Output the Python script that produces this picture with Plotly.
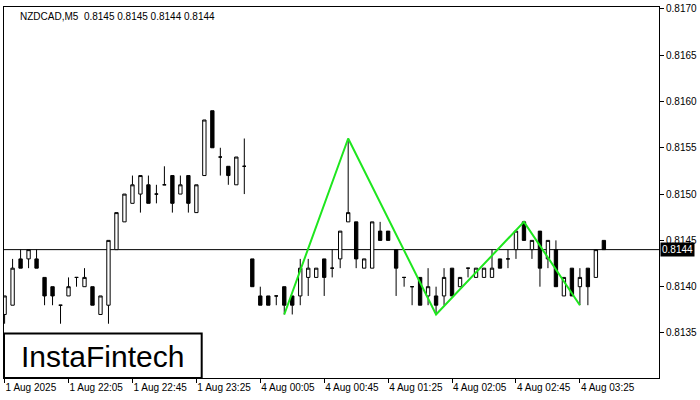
import plotly.graph_objects as go

symbol_title = "NZDCAD,M5  0.8145 0.8145 0.8144 0.8144"

opens = [0.8137, 0.8138, 0.8143, 0.8143, 0.8143, 0.8141, 0.8140, 0.8138, 0.8139, 0.8141,
         0.8140, 0.8140, 0.8137, 0.8138, 0.8144, 0.8147, 0.8149, 0.8150, 0.8151, 0.8150,
         0.8151, 0.8152, 0.8150, 0.8152, 0.8148, 0.8152, 0.8159, 0.8154, 0.8153, 0.8151,
         0.8153, 0.8143, 0.8139, 0.8139, 0.8139, 0.8140, 0.8139, 0.8139, 0.8141, 0.8141,
         0.8143, 0.8142, 0.8143, 0.8147, 0.8147, 0.8142, 0.8142, 0.8146, 0.8146, 0.8144,
         0.8141, 0.8140, 0.8141, 0.8139, 0.8139, 0.8139, 0.8142, 0.8140, 0.8142, 0.8141,
         0.8141, 0.8141, 0.8143, 0.8143, 0.8144, 0.8147, 0.8144, 0.8146, 0.8143, 0.8144,
         0.8139, 0.8142, 0.8140, 0.8142, 0.8141, 0.8145]
highs = [0.8139, 0.8143, 0.8144, 0.8144, 0.8144, 0.8141, 0.8140, 0.8138, 0.8141, 0.8141,
         0.8142, 0.8140, 0.8139, 0.8145, 0.8148, 0.8150, 0.8152, 0.8152, 0.8152, 0.8151,
         0.8153, 0.8152, 0.8152, 0.8152, 0.8151, 0.8158, 0.8159, 0.8155, 0.8153, 0.8154,
         0.8156, 0.8143, 0.8140, 0.8139, 0.8139, 0.8140, 0.8139, 0.8143, 0.8143, 0.8142,
         0.8143, 0.8144, 0.8146, 0.8156, 0.8147, 0.8143, 0.8147, 0.8147, 0.8146, 0.8144,
         0.8141, 0.8140, 0.8141, 0.8142, 0.8140, 0.8142, 0.8142, 0.8141, 0.8142, 0.8142,
         0.8142, 0.8144, 0.8143, 0.8144, 0.8146, 0.8147, 0.8145, 0.8146, 0.8145, 0.8145,
         0.8141, 0.8142, 0.8142, 0.8142, 0.8144, 0.8145]
lows = [0.8136, 0.8138, 0.8142, 0.8142, 0.8142, 0.8138, 0.8138, 0.8136, 0.8139, 0.8140,
        0.8140, 0.8138, 0.8137, 0.8136, 0.8144, 0.8147, 0.8149, 0.8148, 0.8149, 0.8149,
        0.8151, 0.8148, 0.8150, 0.8148, 0.8148, 0.8152, 0.8155, 0.8152, 0.8151, 0.8151,
        0.8150, 0.8140, 0.8138, 0.8138, 0.8138, 0.8137, 0.8137, 0.8138, 0.8139, 0.8141,
        0.8139, 0.8141, 0.8142, 0.8147, 0.8142, 0.8142, 0.8142, 0.8145, 0.8145, 0.8139,
        0.8140, 0.8138, 0.8138, 0.8138, 0.8137, 0.8138, 0.8139, 0.8140, 0.8141, 0.8141,
        0.8141, 0.8141, 0.8142, 0.8142, 0.8143, 0.8145, 0.8143, 0.8140, 0.8142, 0.8140,
        0.8139, 0.8139, 0.8138, 0.8138, 0.8141, 0.8144]
closes = [0.8139, 0.8142, 0.8142, 0.8144, 0.8142, 0.8139, 0.8139, 0.8138, 0.8140, 0.8141,
          0.8141, 0.8138, 0.8139, 0.8145, 0.8148, 0.8150, 0.8151, 0.8152, 0.8149, 0.8150,
          0.8151, 0.8149, 0.8151, 0.8149, 0.8151, 0.8158, 0.8155, 0.8154, 0.8152, 0.8154,
          0.8153, 0.8140, 0.8138, 0.8138, 0.8139, 0.8138, 0.8138, 0.8142, 0.8142, 0.8142,
          0.8141, 0.8142, 0.8146, 0.8148, 0.8143, 0.8143, 0.8147, 0.8145, 0.8145, 0.8142,
          0.8141, 0.8140, 0.8138, 0.8140, 0.8138, 0.8141, 0.8139, 0.8141, 0.8142, 0.8142,
          0.8142, 0.8142, 0.8142, 0.8143, 0.8146, 0.8145, 0.8145, 0.8142, 0.8145, 0.8140,
          0.8141, 0.8139, 0.8141, 0.8140, 0.8144, 0.8144]

bar_index = list(range(len(opens)))

x_tick_index = [0, 8, 16, 24, 32, 40, 48, 56, 64, 72]
x_tick_labels = ["1 Aug 2025", "1 Aug 22:05", "1 Aug 22:45", "1 Aug 23:25", "4 Aug 00:05",
                 "4 Aug 00:45", "4 Aug 01:25", "4 Aug 02:05", "4 Aug 02:45", "4 Aug 03:25"]
y_tick_values = [0.8135, 0.8140, 0.8145, 0.8150, 0.8155, 0.8160, 0.8165, 0.8170]

pattern_index = [35, 43, 54, 65, 72]
pattern_price = [0.8137, 0.8156, 0.8137, 0.8147, 0.8138]

last_price = 0.8144
logo_text = "InstaFintech"

fnt = "Liberation Sans, Arial, sans-serif"

fig = go.Figure()
fig.add_trace(go.Candlestick(
    x=bar_index, open=opens, high=highs, low=lows, close=closes,
    increasing=dict(line=dict(color="black", width=1), fillcolor="white"),
    decreasing=dict(line=dict(color="black", width=1), fillcolor="black"),
    whiskerwidth=0, showlegend=False, hoverinfo="skip",
))
fig.add_trace(go.Scatter(
    x=pattern_index, y=pattern_price, mode="lines",
    line=dict(color="#1ee61e", width=2), showlegend=False, hoverinfo="skip",
))

fig.add_shape(type="line", xref="paper", x0=0, x1=1, yref="y", y0=last_price, y1=last_price,
              line=dict(color="black", width=1), layer="below")

fig.add_annotation(xref="paper", x=1, xanchor="left", xshift=1, yref="y", y=last_price,
                   yanchor="middle", text=f"{last_price:.4f}", showarrow=False, bgcolor="black",
                   font=dict(color="white", size=10, family=fnt), borderpad=1)

fig.add_annotation(xref="paper", yref="paper", x=0, y=1, xanchor="left", yanchor="top",
                   xshift=14, yshift=-2, text=symbol_title, showarrow=False,
                   font=dict(color="black", size=10, family=fnt))

# logo box
fig.add_shape(type="rect", xref="paper", yref="paper", x0=0, x1=198 / 656, y0=0, y1=45 / 375,
              line=dict(color="black", width=2), fillcolor="white", layer="above")
fig.add_annotation(xref="paper", yref="paper", x=99 / 656, y=22 / 375, xanchor="center",
                   yanchor="middle", text=logo_text,
                   showarrow=False, font=dict(color="black", size=30, family=fnt))

fig.update_layout(
    width=700, height=400,
    margin=dict(l=3, r=41, t=3, b=22),
    paper_bgcolor="white", plot_bgcolor="white",
    boxgap=0.4,
    xaxis=dict(range=[-0.075, 81.9], tickvals=x_tick_index, ticktext=x_tick_labels,
               ticks="outside", ticklen=4, tickcolor="black", showgrid=False, zeroline=False,
               showline=True, mirror=True, linecolor="black", linewidth=1,
               ticklabelposition="outside right", ticklabeloverflow="allow",
               tickfont=dict(size=10, color="black", family=fnt),
               rangeslider=dict(visible=False), fixedrange=True),
    yaxis=dict(range=[0.813014, 0.81702], side="right", tickvals=y_tick_values,
               ticktext=[f"{v:.4f}" for v in y_tick_values],
               ticks="outside", ticklen=4, tickcolor="black", showgrid=False, zeroline=False,
               showline=True, mirror=True, linecolor="black", linewidth=1,
               ticklabeloverflow="allow",
               tickfont=dict(size=10, color="black", family=fnt), fixedrange=True),
)

fig.write_html("out.html", config={"displayModeBar": False},
               post_script="document.body.style.margin='0';document.body.style.padding='0';")
